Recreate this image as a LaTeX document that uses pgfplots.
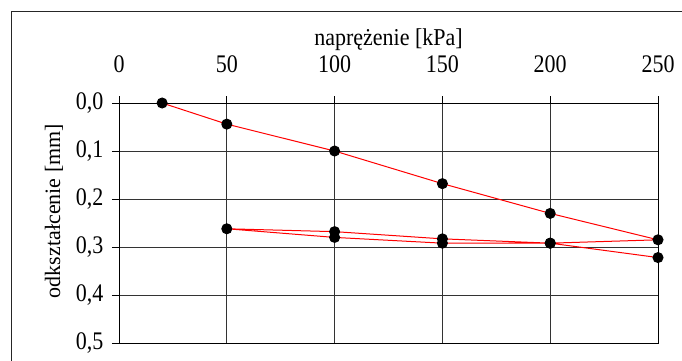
\documentclass[border=0pt]{standalone}
\usepackage{pgfplots}
\pgfplotsset{compat=1.18}
\usepackage{fontspec}
\setmainfont{Liberation Serif}
\begin{document}
\fontsize{22}{26}\selectfont
\begin{tikzpicture}[x=1pt,y=1pt]
\clip (0,0) rectangle (682,360);
\draw[line width=1.2pt, black!85] (11.5,-20) rectangle (720,348.5);
\begin{axis}[
  at={(119pt,17pt)}, anchor=south west,
  scale only axis, width=539pt, height=240pt,
  xmin=0, xmax=250, ymin=0, ymax=0.5,
  y dir=reverse,
  xtick={0,50,...,250}, ytick={0,0.1,...,0.5},
  xticklabel pos=upper,
  xlabel={naprężenie [kPa]}, ylabel={odkształcenie [mm]},
  grid=major, major grid style={black!80, line width=1pt},
  axis line style={black, line width=1pt},
  tick align=outside, major tick length=7pt,
  tick style={black, line width=0.9pt},
  xtick pos=upper, ytick pos=left,
  /pgf/number format/assume math mode=true,
  yticklabel style={/pgf/number format/fixed, /pgf/number format/fixed zerofill, /pgf/number format/precision=1, /pgf/number format/use comma, xshift=-1pt, yscale=1.15},
  xticklabel style={yshift=15pt, yscale=1.15},
  xlabel style={at={(axis description cs:0.5,1)}, anchor=center, yshift=63pt, yscale=1.1},
  ylabel style={at={(axis description cs:0,0.55)}, anchor=center, yshift=65pt},
  tick label style={font=\fontsize{22}{26}\selectfont},
  label style={font=\fontsize{22}{26}\selectfont},
]
\addplot[red, line width=1pt, mark=*, mark options={fill=black, draw=black}, mark size=5pt] coordinates {
(20,0.0) (50,0.044) (100,0.1) (150,0.168) (200,0.23) (250,0.285)
(200,0.292) (150,0.283) (100,0.268) (50,0.262)
(100,0.28) (150,0.292) (200,0.292) (250,0.322)
};
\end{axis}
\end{tikzpicture}
\end{document}
